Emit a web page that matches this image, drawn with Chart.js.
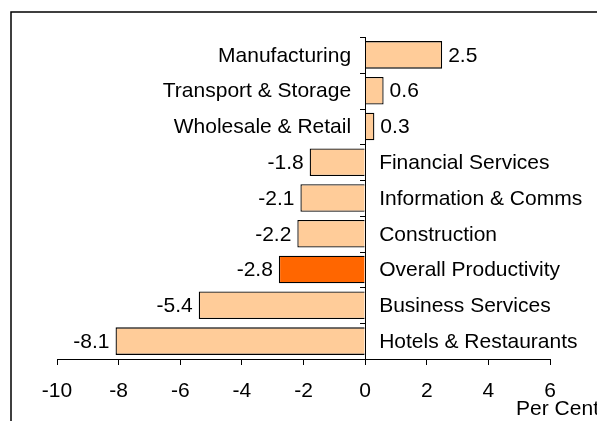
<!DOCTYPE html>
<html>
<head>
<meta charset="utf-8">
<script src="https://cdn.jsdelivr.net/npm/chart.js@4"></script>
<style>
  html, body { margin: 0; padding: 0; background: #fff; }
  #wrap { width: 597px; height: 421px; }
</style>
</head>
<body>
<div id="wrap"><canvas id="prodChart"></canvas></div>
<script>
// ==================== DATA ====================
const sectors = [
    'Manufacturing', 'Transport & Storage', 'Wholesale & Retail',
    'Financial Services', 'Information & Comms', 'Construction',
    'Overall Productivity', 'Business Services', 'Hotels & Restaurants'
];
const changes = [2.5, 0.6, 0.3, -1.8, -2.1, -2.2, -2.8, -5.4, -8.1];
const highlightSector = 'Overall Productivity';
const xTicks = [-10, -8, -6, -4, -2, 0, 2, 4, 6];
const unitLabel = 'Per Cent';

const FONT = "'Liberation Sans', Arial, sans-serif";

// frame around the plot, only top and left show in the window
const framePlugin = {
    id: 'frame',
    beforeDraw(chart) {
        const ctx = chart.ctx;
        ctx.save();
        ctx.strokeStyle = '#000';
        ctx.lineWidth = 1.5;
        ctx.strokeRect(11, 12, 800, 600);
        ctx.restore();
    }
};

// zero axis with small ticks, sector names and values beside the bars
const labelPlugin = {
    id: 'barLabels',
    afterDatasetsDraw(chart) {
        const ctx = chart.ctx;
        const xs = chart.scales.x;
        const ys = chart.scales.y;
        const x0 = xs.getPixelForValue(0);
        const area = chart.chartArea;
        const step = (area.bottom - area.top) / sectors.length;

        ctx.save();
        ctx.strokeStyle = '#000';
        ctx.lineWidth = 1;
        ctx.beginPath();
        ctx.moveTo(Math.round(x0) + 0.5, area.top);
        ctx.lineTo(Math.round(x0) + 0.5, area.bottom);
        for (let i = 0; i < sectors.length; i++) {
            const yy = Math.round(ys.getPixelForValue(i) - step / 2) + 0.5;
            ctx.moveTo(Math.round(x0) + 0.5, yy);
            ctx.lineTo(Math.round(x0) - 5, yy);
        }
        ctx.stroke();

        ctx.font = '21px ' + FONT;
        ctx.fillStyle = '#000';
        ctx.textBaseline = 'middle';
        const meta = chart.getDatasetMeta(0);
        meta.data.forEach((bar, i) => {
            const v = changes[i];
            const y = bar.y + 1;
            if (v >= 0) {
                ctx.textAlign = 'right';
                ctx.fillText(sectors[i], x0 - 14, y);
                ctx.textAlign = 'left';
                ctx.fillText(v.toFixed(1), bar.x + 6, y);
            } else {
                ctx.textAlign = 'left';
                ctx.fillText(sectors[i], x0 + 14, y);
                ctx.textAlign = 'right';
                ctx.fillText(v.toFixed(1), bar.x - 6, y);
            }
        });

        ctx.textAlign = 'left';
        ctx.fillText(unitLabel, xs.getPixelForValue(4.9), area.bottom + 50);
        ctx.restore();
    }
};

new Chart(document.getElementById('prodChart'), {
    type: 'bar',
    data: {
        labels: sectors,
        datasets: [{
            data: changes,
            backgroundColor: sectors.map(s => s === highlightSector ? '#FF6600' : '#FFCC99'),
            borderColor: '#000',
            borderWidth: 1.3,
            borderSkipped: 'start',
            categoryPercentage: 1,
            barPercentage: 0.77
        }]
    },
    options: {
        indexAxis: 'y',
        responsive: true,
        maintainAspectRatio: false,
        animation: false,
        layout: { padding: { left: 57, right: 47, top: 37, bottom: 0 } },
        plugins: {
            legend: { display: false },
            tooltip: { enabled: false }
        },
        scales: {
            x: {
                min: -10,
                max: 6,
                afterBuildTicks: scale => { scale.ticks = xTicks.map(v => ({ value: v })); },
                afterFit: scale => { scale.height = 62; },
                grid: { drawOnChartArea: false, drawTicks: true, tickLength: 6, color: '#000' },
                border: { display: true, color: '#000', width: 1 },
                ticks: { color: '#000', padding: 14, maxRotation: 0, font: { family: FONT, size: 21 } }
            },
            y: {
                display: false
            }
        }
    },
    plugins: [framePlugin, labelPlugin]
});
</script>
</body>
</html>
